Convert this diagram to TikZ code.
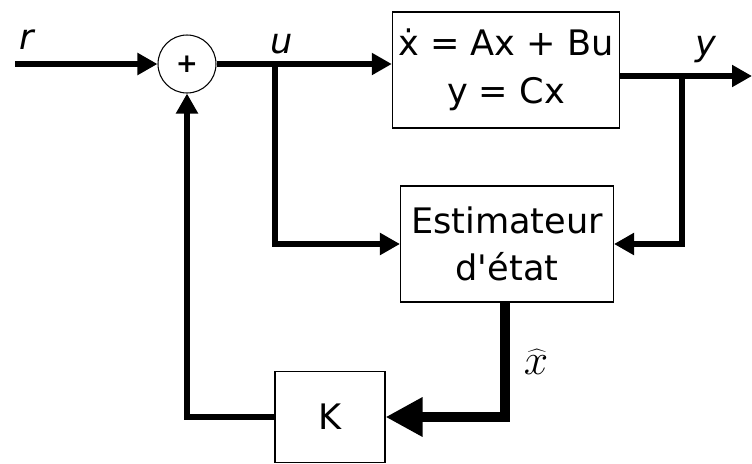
\documentclass[tikz,border=0pt]{standalone}
\usepackage{fontspec}
\setmainfont{DejaVu Sans}[Ligatures=TeXOff]
\usetikzlibrary{arrows.meta,positioning}
\tikzset{
  box/.style={draw, line width=0.6pt, minimum width=4.3cm, minimum height=2.32cm,
              align=center, font=\fontsize{20}{27}\selectfont},
  sumnode/.style={draw, circle, line width=0.6pt, minimum size=1.16cm, inner sep=0pt,
              font=\fontsize{15}{15}\selectfont\bfseries},
  sig/.style={line width=3.4pt},
  arr/.style={sig, -{Triangle[length=0.4cm,width=0.42cm]}},
  tarr/.style={line width=5.8pt, -{Triangle[length=0.74cm,width=0.74cm]}},
  lbl/.style={font=\fontsize{20}{20}\selectfont\itshape},
}
\begin{document}
\begin{tikzpicture}[x=0.02cm, y=-0.02cm]
  \useasboundingbox (0,0) rectangle (752,464);

  % blocks
  \node[sumnode] (sum) at (187,64) {+};
  \node[box] (plant) at (506,70) {ẋ = Ax + Bu\\ y = Cx};
  \node[box, minimum width=4.26cm] (est) at (507,244) {Estimateur\\ d'état};
  \node[box, minimum width=2.2cm, minimum height=1.82cm] (K) at (330,417) {K};

  % branch points
  \coordinate (rin) at (15,64);
  \coordinate (ub) at (275,64);
  \coordinate (yb) at (682,76);
  \coordinate (yout) at (752,76);
  \coordinate (xh) at (505,405);

  % signals
  \draw[arr] (rin) -- (sum.west);
  \draw[arr] (sum.east) -- (sum.east -| plant.west);
  \draw[arr] (ub) |- (est.west);
  \draw[arr] (plant.east |- yout) -- (yout);
  \draw[arr] (yb) |- (est.east);
  \draw[tarr] (est.south -| xh) |- (K.east);
  \draw[arr] (K.west) -| (sum.south);

  % labels
  \node[lbl] (rl) at (27,40) {r};
  \node[lbl] (ul) at (282,44) {u};
  \node[lbl] (yl) at (706,50) {y};
  \node (xhl) at (536,362) {\fontsize{24}{24}\selectfont$\widehat{x}$};
\end{tikzpicture}
\end{document}
